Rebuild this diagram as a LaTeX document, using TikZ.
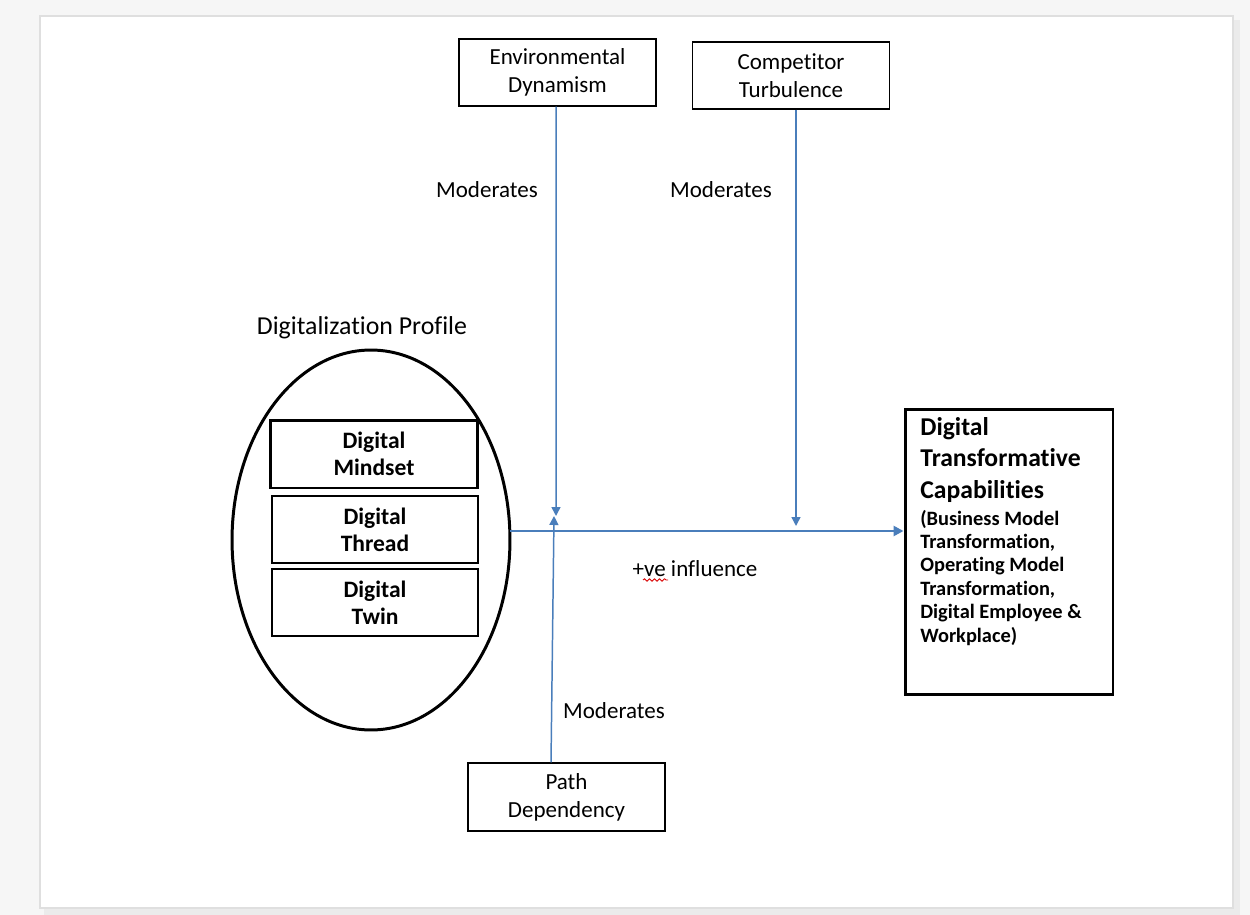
\documentclass[tikz,border=0pt]{standalone}
\usepackage{fontspec}
\setmainfont{Carlito}[Ligatures=NoCommon]
\usetikzlibrary{arrows.meta,shapes.geometric,decorations.pathmorphing}
\definecolor{arrowblue}{HTML}{4A7EBB}

\begin{document}
\begin{tikzpicture}[x=0.02cm,y=-0.02cm,
  every node/.style={inner sep=0pt},
  txt/.style={font=\fontsize{13.1}{15.8}\selectfont},
  plainbox/.style={draw, line width=0.8pt, minimum width=3.94cm, minimum height=1.34cm, align=center, txt},
  stackbox/.style={draw, line width=0.8pt, minimum width=4.12cm, minimum height=1.34cm, align=center,
    font=\bfseries\fontsize{13.4}{15.4}\selectfont},
  link/.style={draw=arrowblue, line width=0.85pt, -{Triangle[length=0.18cm,width=0.18cm]}},
  mainlink/.style={draw=arrowblue, line width=1.4pt, -{Triangle[length=0.2cm,width=0.2cm]}}
]
% sheet and its shadow
\fill[gray!7] (0,0) rectangle (1250,915);
\fill[gray!16] (44,20) rectangle (1240,915);
\fill[white] (40,16) rectangle (1233,908);
\draw[gray!25, line width=0.6pt] (40,16) rectangle (1233,908);

% moderating factors
\node[plainbox] (env)  at (557.5,72.5) {Environmental\\Dynamism};
\node[plainbox] (comp) at (791,75.5)   {Competitor\\Turbulence};
\node[plainbox, minimum height=1.36cm] (path) at (566.5,797) {Path\\Dependency};

% digitalization profile
\node[font=\fontsize{14.7}{17}\selectfont] (proftitle) at (362,328) {Digitalization Profile};
\node[draw, ellipse, line width=1.7pt, minimum width=5.56cm, minimum height=7.6cm] (prof) at (371,540) {};
\node[stackbox, line width=1.7pt, minimum width=4.16cm, minimum height=1.36cm] (mindset) at (374,454) {Digital\\Mindset};
\node[stackbox] (thread) at (375,529.5) {Digital\\Thread};
\node[stackbox] (twin)   at (375,602.5) {Digital\\Twin};

% outcome
\node[draw, line width=1.7pt, minimum width=4.16cm, minimum height=5.72cm] (dtc) at (1009,552) {};
\node[anchor=base west, align=left, font=\bfseries\fontsize{14.6}{17.9}\selectfont] (dtctitle) at (920,498)
  {Digital\\Transformative\\Capabilities};
\node[anchor=base west, align=left, font=\bfseries\fontsize{11.6}{13.3}\selectfont] (dtcsub) at (920,642)
  {(Business Model\\Transformation,\\Operating Model\\Transformation,\\Digital Employee \&\\Workplace)};

% connectors
\coordinate (hstart) at (510,531);
\coordinate (envtip) at (556,516);
\coordinate (comptip) at (796,526);
\coordinate (pathtip) at (554,516);
\draw[mainlink] (hstart) -- (dtc.west |- hstart);
\draw[link] ([xshift=-0.03cm]env.south) -- (envtip);
\draw[link] (comp.south -| comptip) -- (comptip);
\draw[link] ([xshift=-0.31cm]path.north) -- (pathtip);

% labels
\node[txt] (m1) at (487,190) {Moderates};
\node[txt] (m2) at (721,190) {Moderates};
\node[txt] (m3) at (614,711) {Moderates};
\node[txt] (infl) at (695,569) {+ve influence};
\draw[red!85!black, line width=0.5pt, decorate, decoration={snake, segment length=0.1cm, amplitude=0.024cm}]
  (643,580) -- (668,580);
\end{tikzpicture}
\end{document}
